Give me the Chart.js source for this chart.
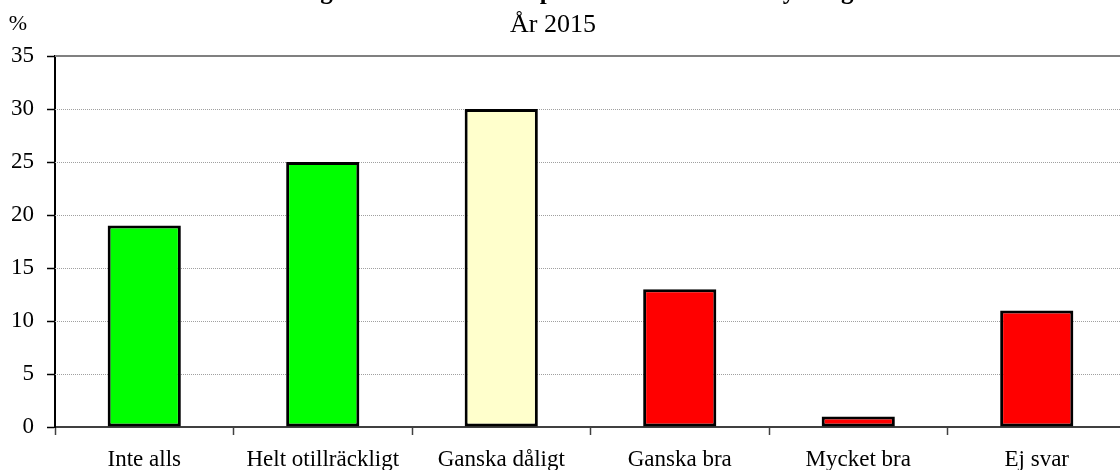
<!DOCTYPE html>
<html>
<head>
<meta charset="utf-8">
<script src="https://cdn.jsdelivr.net/npm/chart.js@4/dist/chart.umd.min.js"></script>
<style>
  html, body { margin: 0; padding: 0; background: #fff; overflow: hidden; width: 1120px; height: 470px; }
  #wrap { position: absolute; left: 0; top: 0; width: 1140px; height: 470px; }
</style>
</head>
<body>
<div id="wrap"><canvas id="c" width="1140" height="470"></canvas></div>
<script>
// ---- data ----
const categories = ['Inte alls', 'Helt otillräckligt', 'Ganska dåligt', 'Ganska bra', 'Mycket bra', 'Ej svar'];
const values = [19, 25, 30, 13, 1, 11];
const yTicks = [0, 5, 10, 15, 20, 25, 30, 35];
const titleLine1 = 'Bedömning av stödet från kompetenscentrum inom styrning';
const titleLine2 = 'År 2015';
const yUnit = '%';

// ---- styles ----
const barColors = ['#00FF00', '#00FF00', '#FFFFCC', '#FF0000', '#FF0000', '#FF0000'];
const SERIF = '"Liberation Serif", "Times New Roman", serif';

const gridPlugin = {
  id: 'hgrid',
  beforeDatasetsDraw(chart) {
    const { ctx, chartArea, scales } = chart;
    const y = scales.y;
    ctx.save();
    yTicks.forEach(v => {
      if (v === 0) return;
      const py = Math.round(y.getPixelForValue(v));
      ctx.beginPath();
      if (v === 35) {
        ctx.setLineDash([]);
        ctx.strokeStyle = '#808080';
        ctx.lineWidth = 2;
        ctx.moveTo(chartArea.left, py);
        ctx.lineTo(chartArea.right, py);
      } else {
        ctx.setLineDash([1, 1]);
        ctx.strokeStyle = '#a0a0a0';
        ctx.lineWidth = 1;
        ctx.moveTo(chartArea.left, py + 0.5);
        ctx.lineTo(chartArea.right, py + 0.5);
      }
      ctx.stroke();
    });
    ctx.restore();
  }
};

const titlePlugin = {
  id: 'titles',
  afterDraw(chart) {
    const { ctx } = chart;
    ctx.save();
    ctx.fillStyle = '#000';
    ctx.textAlign = 'center';
    ctx.textBaseline = 'alphabetic';
    ctx.font = 'bold 25px ' + SERIF;
    ctx.fillText(titleLine1, 532, -1);
    ctx.font = '26px ' + SERIF;
    ctx.fillText(titleLine2, 553, 32);
    ctx.font = '22px ' + SERIF;
    ctx.fillText(yUnit, 18, 30);
    ctx.restore();
  }
};

new Chart(document.getElementById('c'), {
  type: 'bar',
  data: {
    labels: categories,
    datasets: [{
      data: values,
      backgroundColor: barColors,
      borderColor: '#000',
      borderWidth: 3,
      borderSkipped: false,
      barPercentage: 0.41,
      categoryPercentage: 1.0
    }]
  },
  options: {
    responsive: false,
    animation: false,
    devicePixelRatio: 1,
    layout: { padding: { top: 56, right: 14, bottom: 0, left: 0 } },
    plugins: { legend: { display: false }, title: { display: false }, tooltip: { enabled: false } },
    scales: {
      x: {
        afterFit(s) { s.height = 43; },
        grid: { offset: true, drawOnChartArea: false, drawTicks: true, tickLength: 8, tickColor: '#404040', tickWidth: 1.5 },
        border: { display: true, color: '#404040', width: 2 },
        ticks: { color: '#000', font: { family: SERIF, size: 23 }, padding: 11, maxRotation: 0, autoSkip: false }
      },
      y: {
        min: 0, max: 35,
        afterFit(s) { s.width = 55; },
        afterBuildTicks(s) { s.ticks = yTicks.map(v => ({ value: v })); },
        grid: { drawOnChartArea: false, drawTicks: true, tickLength: 8, tickColor: '#000', tickWidth: 1.5 },
        border: { display: true, color: '#000', width: 2 },
        ticks: { color: '#000', font: { family: SERIF, size: 23 }, padding: 13 }
      }
    }
  },
  plugins: [gridPlugin, titlePlugin]
});
</script>
</body>
</html>
